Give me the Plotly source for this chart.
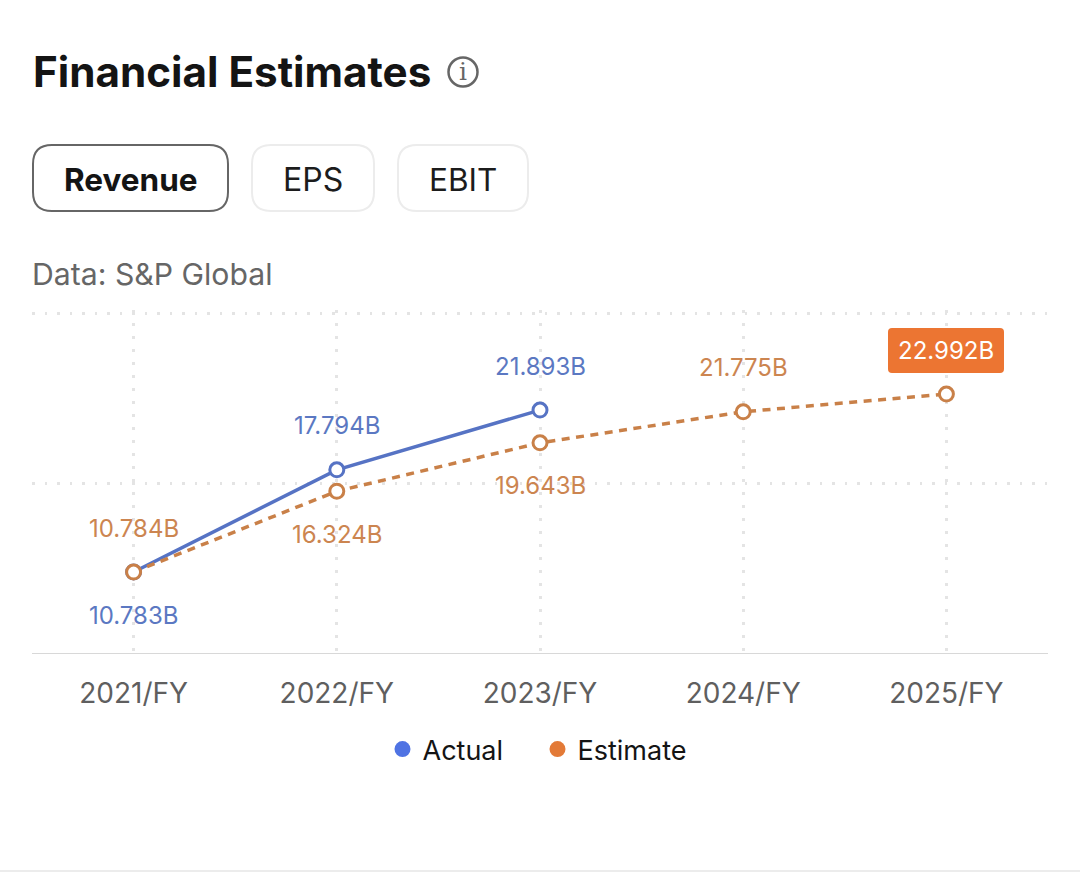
import plotly.graph_objects as go

categories = ["2021/FY", "2022/FY", "2023/FY", "2024/FY", "2025/FY"]
actual = [10.783, 17.794, 21.893, None, None]
estimate = [10.784, 16.324, 19.643, 21.775, 22.992]
actual_labels = ["10.783B", "17.794B", "21.893B"]
estimate_labels = ["10.784B", "16.324B", "19.643B", "21.775B", "22.992B"]
actual_shift = [-43, 44, 44]
estimate_shift = [44, -43, -43, 44]

BLUE, ORANGE = "#5673c4", "#c98048"
BLUE_T, ORANGE_T = "#5b78c2", "#cc8550"
GRID = "#e4e4e4"
FONT = "Inter"
W, H = 1080, 890
L, R, T, B = 32, 1048, 310, 653


def px(x):
    return (x - L) / (R - L)


def py(y):
    return (B - y) / (B - T)


def rrect(x0, y0, x1, y1, r):
    a, b, c, d = px(x0), px(x1), py(y0), py(y1)
    rx, ry = r / (R - L), r / (B - T)
    return (f"M{a+rx},{c} L{b-rx},{c} Q{b},{c} {b},{c-ry} L{b},{d+ry} Q{b},{d} {b-rx},{d} "
            f"L{a+rx},{d} Q{a},{d} {a},{d+ry} L{a},{c-ry} Q{a},{c} {a+rx},{c} Z")


def note(x, y, text, size, color, weight=400, anchor="left", family=FONT):
    return dict(x=px(x), y=py(y), xref="paper", yref="paper", text=text, showarrow=False,
                xanchor=anchor, yanchor="middle",
                font=dict(family=family, size=size, color=color, weight=weight))


fig = go.Figure()
fig.add_trace(go.Scatter(x=categories, y=actual, mode="lines+markers", showlegend=False,
                         line=dict(color=BLUE, width=3.5),
                         marker=dict(size=14, color="white", line=dict(color=BLUE, width=3))))
fig.add_trace(go.Scatter(x=categories, y=estimate, mode="lines+markers", showlegend=False,
                         line=dict(color=ORANGE, width=3.5, dash="8px,6.5px"),
                         marker=dict(size=14, color="white", line=dict(color=ORANGE, width=3))))
fig.add_trace(go.Scatter(x=[None], y=[None], mode="markers", name="Actual",
                         marker=dict(size=17, color="#4f73e3")))
fig.add_trace(go.Scatter(x=[None], y=[None], mode="markers", name="Estimate",
                         marker=dict(size=17, color="#e37a37")))

ann = []
for c, v, t, s in zip(categories, actual, actual_labels, actual_shift):
    ann.append(dict(x=c, y=v, text=t, showarrow=False, yshift=s,
                    font=dict(family=FONT, size=24, color=BLUE_T)))
for c, v, t, s in zip(categories, estimate, estimate_labels, estimate_shift):
    ann.append(dict(x=c, y=v, text=t, showarrow=False, yshift=s,
                    font=dict(family=FONT, size=24, color=ORANGE_T)))
ann.append(dict(x=categories[4], y=estimate[4], text=estimate_labels[4], showarrow=False, yshift=44,
                font=dict(family=FONT, size=24, color="white")))
ann += [
    note(31, 72, "Financial Estimates", 42.2, "#141414", 700),
    note(131, 179, "Revenue", 31.5, "#141414", 700, "center"),
    note(313, 179, "EPS", 32, "#1c1c1c", 400, "center"),
    note(463, 179, "EBIT", 31.5, "#1c1c1c", 400, "center"),
    note(30, 274, "Data: S&amp;P Global", 30.2, "#666666"),
    note(463, 72, "i", 25, "#666666", 400, "center", "DejaVu Serif"),
]

shapes = [
    dict(type="path", xref="paper", yref="paper", path=rrect(33, 145, 228, 211, 19),
         line=dict(color="#666666", width=2), fillcolor="white"),
    dict(type="path", xref="paper", yref="paper", path=rrect(252, 145, 374, 211, 19),
         line=dict(color="#ececec", width=2), fillcolor="white"),
    dict(type="path", xref="paper", yref="paper", path=rrect(398, 145, 528, 211, 19),
         line=dict(color="#ececec", width=2), fillcolor="white"),
    dict(type="circle", xref="paper", yref="paper", x0=px(448.5), x1=px(477.5), y0=py(57.5), y1=py(86.5),
         line=dict(color="#666666", width=2.5)),
    dict(type="path", xref="paper", yref="paper", path=rrect(888, 328, 1004, 373, 4),
         line=dict(color="#ec7532", width=0), fillcolor="#ec7532", layer="above"),
    dict(type="line", xref="paper", yref="paper", x0=-L / (R - L), x1=(W - L) / (R - L), y0=py(871), y1=py(871),
         line=dict(color="#e6e6e6", width=1.5)),
]

fig.update_layout(
    width=W, height=H, autosize=False,
    margin=dict(l=L, r=W - R, t=T, b=H - B),
    paper_bgcolor="white", plot_bgcolor="white",
    font=dict(family=FONT),
    annotations=ann, shapes=shapes,
    legend=dict(orientation="h", x=px(382.5), xanchor="left", y=py(725), yanchor="top",
                entrywidth=110, entrywidthmode="pixels",
                font=dict(family=FONT, size=27, color="#141414"), itemclick=False),
    xaxis=dict(type="category", range=[-0.5, 4.5], showline=True, linecolor="#d8d8d8", linewidth=1,
               showgrid=True, gridcolor=GRID, gridwidth=2.5, griddash="2.5px,10.5px",
               ticks="", ticklabelstandoff=15, tickfont=dict(family=FONT, size=28, color="#5f5f5f")),
    yaxis=dict(range=[5.23, 28.756], tickvals=[16.89, 28.55], showticklabels=False, ticks="", zeroline=False,
               showgrid=True, gridcolor=GRID, gridwidth=2.5, griddash="2.5px,10px"),
)
fig.write_html("out.html", post_script="document.body.style.margin='0';",
               config={"displayModeBar": False})
